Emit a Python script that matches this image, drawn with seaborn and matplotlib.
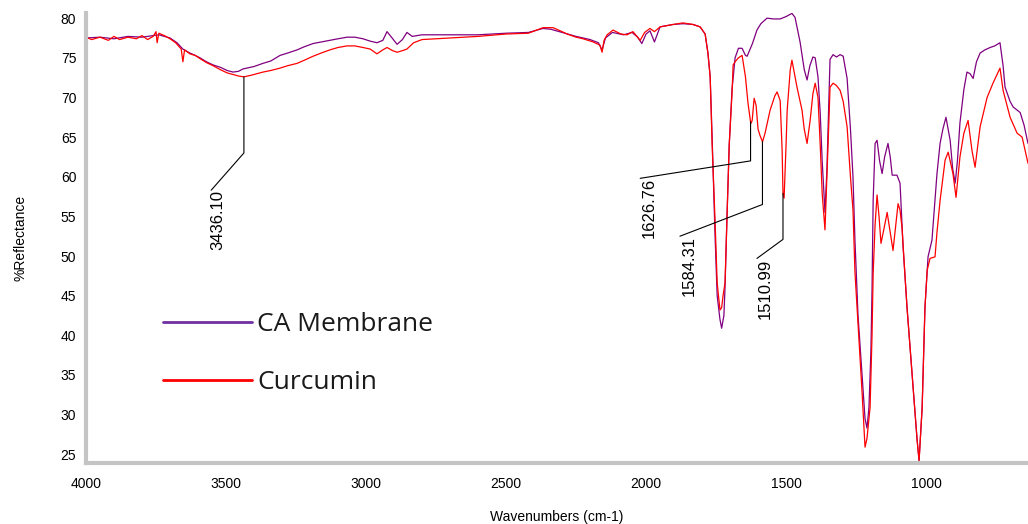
import numpy as np
import pandas as pd
import matplotlib
matplotlib.use("Agg")
import matplotlib.pyplot as plt
import seaborn as sns
from matplotlib.ticker import MultipleLocator, FixedLocator
from matplotlib.lines import Line2D

# ---------------- data ----------------
membrane_wn = [4000, 3950, 3900, 3850, 3800, 3760, 3740, 3720, 3700, 3675, 3654, 3629, 3610, 3593,
               3570, 3546, 3520, 3496, 3475, 3455, 3439, 3400, 3368, 3340, 3307, 3280, 3246, 3220,
               3189, 3160, 3129, 3100, 3068, 3040, 3011, 2985, 2961, 2940, 2925, 2905, 2889, 2870,
               2854, 2835, 2800, 2700, 2600, 2500, 2420, 2368, 2340, 2300, 2250, 2200, 2170, 2157,
               2145, 2120, 2080, 2050, 2030, 2015, 2000, 1986, 1970, 1950, 1904, 1868, 1832, 1807,
               1789, 1779, 1771, 1764, 1754, 1746, 1736, 1730, 1722, 1718, 1711, 1703, 1693, 1682,
               1670, 1657, 1645, 1639, 1620, 1604, 1590, 1568, 1545, 1521, 1500, 1479, 1468, 1450,
               1435, 1425, 1415, 1404, 1396, 1386, 1378, 1371, 1361, 1354, 1347, 1343, 1332, 1320,
               1307, 1296, 1282, 1270, 1261, 1254, 1243, 1229, 1218, 1211, 1204, 1197, 1193, 1189,
               1182, 1175, 1166, 1157, 1148, 1136, 1128, 1121, 1104, 1093, 1082, 1068, 1050, 1032,
               1025, 1014, 1004, 993, 979, 961, 950, 940, 929, 914, 905, 896, 888, 879, 865, 854,
               843, 832, 820, 807, 790, 771, 755, 736, 725, 718, 700, 689, 675, 664, 650, 636]
membrane_pct = [77.5, 77.6, 77.4, 77.7, 77.6, 77.8, 77.9, 77.7, 77.5, 76.9, 76.1, 75.6, 75.3, 75.0,
                74.5, 74.1, 73.8, 73.4, 73.2, 73.3, 73.6, 73.9, 74.3, 74.6, 75.3, 75.6, 76.0, 76.4,
                76.8, 77.0, 77.2, 77.4, 77.6, 77.6, 77.4, 77.1, 76.9, 77.2, 78.3, 77.4, 76.7, 77.3,
                78.2, 77.7, 77.9, 77.9, 77.9, 78.1, 78.2, 78.7, 78.6, 78.2, 77.7, 77.3, 76.9, 76.0,
                77.5, 78.2, 77.9, 78.2, 77.6, 76.8, 78.0, 78.4, 77.0, 78.9, 79.2, 79.3, 79.2, 78.9,
                78.0, 75.6, 72.6, 65.0, 53.0, 45.0, 42.0, 40.9, 42.5, 46.0, 55.0, 64.0, 71.0, 75.0,
                76.2, 76.2, 75.3, 75.2, 76.8, 78.5, 79.3, 80.0, 79.9, 79.9, 80.2, 80.6, 80.1, 77.0,
                73.5, 72.2, 74.0, 75.1, 75.0, 72.6, 68.0, 62.0, 55.5, 61.0, 70.0, 74.8, 75.4, 75.1,
                75.4, 75.2, 72.4, 66.0, 60.0, 52.0, 42.5, 35.2, 29.5, 28.3, 30.9, 38.0, 45.7, 57.0,
                64.2, 64.6, 62.0, 60.4, 62.5, 64.2, 62.5, 60.2, 60.2, 59.2, 51.1, 43.5, 35.2, 26.8,
                24.2, 30.9, 43.5, 49.9, 52.0, 60.4, 64.2, 66.0, 67.5, 64.6, 61.0, 59.2, 62.0, 66.8,
                71.0, 73.2, 73.0, 72.4, 74.5, 75.6, 76.0, 76.3, 76.5, 76.9, 74.0, 71.3, 69.5, 68.8,
                68.4, 68.1, 66.5, 64.2]

curcumin_wn = [4000, 3980, 3950, 3920, 3900, 3880, 3850, 3820, 3800, 3780, 3760, 3750, 3746, 3740,
               3720, 3700, 3680, 3660, 3654, 3648, 3629, 3610, 3593, 3570, 3546, 3520, 3496, 3475,
               3455, 3436, 3410, 3368, 3340, 3307, 3280, 3246, 3220, 3189, 3160, 3129, 3100, 3068,
               3040, 3011, 2985, 2961, 2940, 2925, 2905, 2889, 2870, 2854, 2830, 2800, 2700, 2600,
               2500, 2420, 2368, 2332, 2300, 2282, 2250, 2225, 2189, 2165, 2157, 2150, 2139, 2118,
               2090, 2068, 2047, 2030, 2021, 2005, 1986, 1970, 1950, 1904, 1868, 1832, 1807, 1789,
               1779, 1771, 1764, 1754, 1746, 1736, 1730, 1725, 1718, 1711, 1703, 1693, 1689, 1682,
               1670, 1657, 1645, 1636, 1626, 1621, 1614, 1607, 1600, 1593, 1584, 1575, 1557, 1540,
               1532, 1521, 1514, 1511, 1507, 1500, 1496, 1485, 1479, 1470, 1461, 1443, 1435, 1425,
               1414, 1404, 1396, 1386, 1378, 1371, 1361, 1354, 1347, 1343, 1332, 1320, 1307, 1296,
               1282, 1270, 1261, 1254, 1243, 1229, 1218, 1211, 1200, 1193, 1189, 1182, 1175, 1168,
               1161, 1150, 1139, 1128, 1118, 1108, 1100, 1093, 1086, 1068, 1050, 1032, 1025, 1014,
               1004, 996, 986, 968, 961, 950, 932, 921, 904, 893, 879, 865, 850, 836, 825, 807,
               782, 761, 736, 725, 700, 675, 657, 636]
curcumin_pct = [77.6, 77.3, 77.6, 77.2, 77.7, 77.3, 77.6, 77.4, 77.8, 77.3, 77.7, 78.3, 76.9, 78.1,
                77.8, 77.4, 76.9, 76.1, 74.5, 76.0, 75.5, 75.3, 74.9, 74.4, 74.0, 73.5, 73.1, 72.9,
                72.7, 72.6, 72.8, 73.2, 73.4, 73.7, 74.0, 74.3, 74.7, 75.2, 75.6, 76.0, 76.3, 76.5,
                76.5, 76.3, 76.1, 75.5, 76.0, 76.3, 75.9, 75.7, 75.9, 76.1, 76.9, 77.3, 77.5, 77.7,
                78.0, 78.1, 78.8, 78.8, 78.3, 78.0, 77.6, 77.4, 77.0, 76.6, 75.7, 77.2, 77.9, 78.5,
                78.0, 77.9, 78.3, 77.6, 77.2, 78.2, 78.7, 78.3, 78.9, 79.2, 79.4, 79.2, 78.9, 78.0,
                75.6, 72.6, 64.0, 54.9, 46.6, 43.2, 43.5, 45.0, 46.6, 54.9, 64.0, 70.5, 74.1, 74.5,
                75.0, 75.3, 72.6, 69.3, 66.7, 67.1, 69.9, 69.0, 66.0, 65.2, 64.4, 65.5, 68.4, 70.2,
                70.7, 69.6, 63.3, 57.9, 57.3, 64.0, 68.4, 73.5, 74.7, 73.0, 71.3, 68.4, 66.0, 64.2,
                67.1, 70.5, 71.8, 70.0, 64.0, 57.9, 53.3, 60.0, 67.0, 71.3, 71.8, 71.5, 70.9, 69.5,
                66.3, 60.0, 55.8, 48.0, 41.5, 33.1, 25.9, 27.0, 30.9, 40.0, 47.8, 54.0, 57.7, 55.0,
                51.6, 53.5, 55.5, 53.0, 50.7, 54.0, 56.6, 55.8, 53.6, 43.5, 35.2, 26.8, 24.2, 30.9,
                43.5, 48.2, 49.7, 49.9, 53.0, 57.0, 62.1, 63.1, 60.4, 57.4, 62.5, 65.5, 67.1, 63.3,
                61.2, 66.3, 70.0, 71.8, 73.7, 70.9, 67.5, 65.5, 65.0, 61.7]

series_names = ["CA Membrane", "Curcumin"]
series_colors = ["#800080", "#ff0000"]
legend_colors = ["#7030a0", "#ff0000"]

peak_wn = [3436.10, 1626.76, 1584.31, 1510.99]
peak_labels = ["3436.10", "1626.76", "1584.31", "1510.99"]

x_ticks = [4000, 3500, 3000, 2500, 2000, 1500, 1000]
y_ticks = [25, 30, 35, 40, 45, 50, 55, 60, 65, 70, 75, 80]

# ---------------- layout ----------------
leader_knee_y = [63.0, 62.0, 56.5, 52.1]
leader_end_x = [3553, 2021, 1879, 1604]
leader_end_y = [58.3, 59.8, 52.5, 49.7]
label_shift_x = [-25, -32, -33, -29]

W, H = 1028, 524
sns.set_theme(style="white")
plt.rcParams["font.family"] = ["Liberation Sans", "DejaVu Sans"]

fig = plt.figure(figsize=(W / 100, H / 100), dpi=100)
ax = fig.add_axes([86 / W, 61 / H, 942 / W, 450 / H])

df = pd.concat([
    pd.DataFrame({"wn": membrane_wn, "pct": membrane_pct, "series": series_names[0]}),
    pd.DataFrame({"wn": curcumin_wn, "pct": curcumin_pct, "series": series_names[1]}),
], ignore_index=True)

sns.lineplot(data=df, x="wn", y="pct", hue="series", hue_order=series_names,
             palette=dict(zip(series_names, series_colors)), estimator=None,
             sort=False, linewidth=0.9, legend=False, ax=ax)

ax.set_xlim(4000, 636)
ax.set_ylim(23.9, 80.65)

ax.xaxis.set_major_locator(FixedLocator(x_ticks))
ax.xaxis.set_minor_locator(MultipleLocator(100))
ax.yaxis.set_major_locator(FixedLocator(y_ticks))
ax.yaxis.set_minor_locator(MultipleLocator(1))
ax.set_xticklabels([str(t) for t in x_ticks])
ax.set_yticklabels([str(t) for t in y_ticks])

for s in ["top", "right"]:
    ax.spines[s].set_visible(False)
for s in ["left", "bottom"]:
    ax.spines[s].set_color("#c4c4c4")
    ax.spines[s].set_linewidth(3)

ax.tick_params(axis="both", which="major", direction="out", length=5, width=1,
               color="black", labelsize=10, labelcolor="black")
ax.tick_params(axis="both", which="minor", direction="out", length=2.5, width=1, color="black")
ax.tick_params(axis="x", which="major", pad=5)
ax.tick_params(axis="y", which="major", pad=2)

ax.set_xlabel("Wavenumbers (cm-1)", fontsize=10, color="black")
ax.set_ylabel("%Reflectance", fontsize=10, color="black")
ax.xaxis.set_label_coords(0.5, -0.105)
ax.yaxis.set_label_coords(-0.062, 0.5)

# peak annotations (leader lines from the Curcumin curve)
cur_x = np.array(curcumin_wn)[::-1]
cur_y = np.array(curcumin_pct)[::-1]
for wn, lab, ky, ex, ey, dx in zip(peak_wn, peak_labels, leader_knee_y,
                                   leader_end_x, leader_end_y, label_shift_x):
    y0 = float(np.interp(wn, cur_x, cur_y))
    ax.plot([wn, wn, ex], [y0, ky, ey], color="black", linewidth=0.8)
    ax.text(ex + dx, ey, lab, rotation=90, ha="center", va="top",
            fontsize=12, color="black")

# legend
handles = [Line2D([0], [0], color=c, linewidth=2) for c in legend_colors]
leg = ax.legend(handles, series_names, loc="center left",
                bbox_to_anchor=(77 / 942, (463 - 353.5) / 450),
                frameon=False, handlelength=3.37, handletextpad=0.2,
                labelspacing=1.25, borderpad=0, borderaxespad=0,
                prop={"family": "Open Sans", "size": 19})
for t in leg.get_texts():
    t.set_color("#1a1a1a")

fig.savefig("out.png", dpi=100, facecolor="white")
